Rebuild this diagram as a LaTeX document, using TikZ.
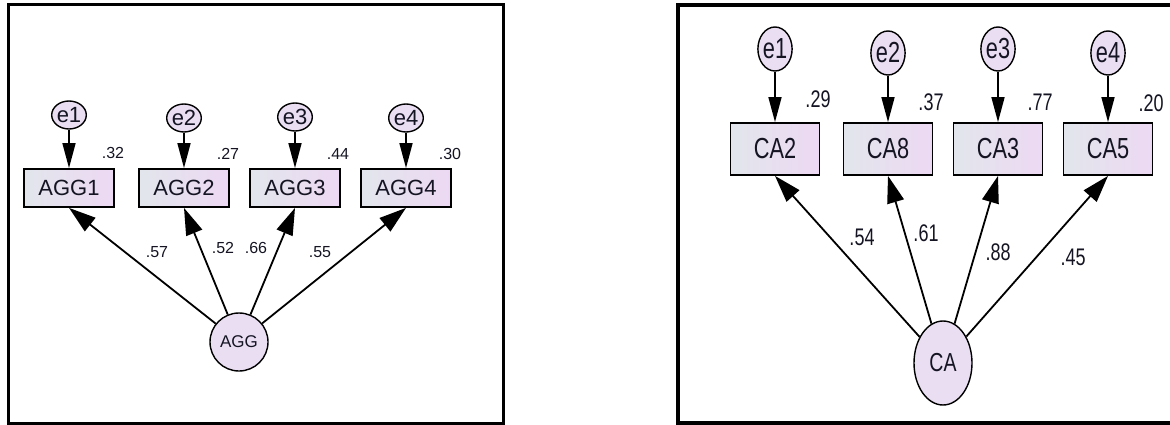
\documentclass[tikz,border=0pt]{standalone}
\usepackage{fontspec}
\setmainfont{Liberation Sans}
\newfontfamily\narrowfont[FakeStretch=0.75]{Liberation Sans}
\usetikzlibrary{arrows.meta,shapes.geometric}
\definecolor{boxleft}{RGB}{226,230,236}
\definecolor{boxright}{RGB}{237,216,243}
\definecolor{varfill}{RGB}{234,222,243}
\definecolor{ink}{RGB}{20,20,35}

\begin{document}
\begin{tikzpicture}[x=1pt,y=-1pt,
	obs/.style={draw, line width=1.8pt, left color=boxleft, right color=boxright, inner sep=0pt, text=ink},
	err/.style={draw, ellipse, line width=1.4pt, fill=varfill, inner sep=0pt, text=ink},
	errarrow/.style={line width=1.6pt, -{Triangle[length=25pt,width=13pt]}},
	load/.style={line width=1.8pt, -{Triangle[length=27pt,width=17pt]}},
	val/.style={inner sep=0pt, text=ink}]

	\useasboundingbox (0,0) rectangle (1170,425);

	%frames of both models (the right one runs off the page)
	\draw[line width=3pt] (8,5) rectangle (503,423);
	\draw[line width=3.5pt] (1170,5) -- (678,5) -- (678,423) -- (1170,423);

	%model AGG (left)
	\begin{scope}[font=\fontsize{22}{24}\selectfont]
	\node[err, minimum width=28pt, minimum height=28pt] (ae1) at (69,115) {e1};
	\node[err, minimum width=28pt, minimum height=28pt] (ae2) at (184,118) {e2};
	\node[err, minimum width=28pt, minimum height=28pt] (ae3) at (295,117) {e3};
	\node[err, minimum width=28pt, minimum height=28pt] (ae4) at (406,118) {e4};

	\node[obs, minimum width=90pt, minimum height=38pt] (agg1) at (69,188) {AGG1};
	\node[obs, minimum width=90pt, minimum height=38pt] (agg2) at (184,188) {AGG2};
	\node[obs, minimum width=90pt, minimum height=38pt] (agg3) at (295,188) {AGG3};
	\node[obs, minimum width=90pt, minimum height=38pt] (agg4) at (406,188) {AGG4};
	\end{scope}

	\node[err, minimum size=58pt, font=\fontsize{17}{19}\selectfont] (agg) at (239,342) {AGG};

	\draw[errarrow] (ae1) -- (agg1);
	\draw[errarrow] (ae2) -- (agg2);
	\draw[errarrow] (ae3) -- (agg3);
	\draw[errarrow] (ae4) -- (agg4);

	\draw[load] (agg) -- (agg1.south);
	\draw[load] (agg) -- (agg2.south);
	\draw[load] (agg) -- (agg3.south);
	\draw[load] (agg) -- (agg4.south);

	\begin{scope}[font=\fontsize{16}{18}\selectfont]
	\node[val] (ar1) at (113,153) {.32};
	\node[val] (ar2) at (228,154) {.27};
	\node[val] (ar3) at (338,154) {.44};
	\node[val] (ar4) at (450,154) {.30};

	\node[val] (al1) at (157,252) {.57};
	\node[val] (al2) at (223,248) {.52};
	\node[val] (al3) at (256,248) {.66};
	\node[val] (al4) at (320,252) {.55};
	\end{scope}

	%model CA (right), narrow lettering
	\begin{scope}[font=\narrowfont\fontsize{29}{31}\selectfont]
	\node[err, minimum width=28pt, minimum height=44pt] (ce1) at (775,49) {e1};
	\node[err, minimum width=28pt, minimum height=44pt] (ce2) at (888,53) {e2};
	\node[err, minimum width=28pt, minimum height=44pt] (ce3) at (998,49) {e3};
	\node[err, minimum width=28pt, minimum height=44pt] (ce4) at (1108,53) {e4};

	\node[obs, minimum width=89pt, minimum height=52pt] (ca2) at (775,149) {CA2};
	\node[obs, minimum width=89pt, minimum height=52pt] (ca8) at (888,149) {CA8};
	\node[obs, minimum width=89pt, minimum height=52pt] (ca3) at (998,149) {CA3};
	\node[obs, minimum width=89pt, minimum height=52pt] (ca5) at (1108,149) {CA5};
	\end{scope}

	\node[err, minimum width=58pt, minimum height=84pt, font=\narrowfont\fontsize{26}{28}\selectfont] (ca) at (943,363) {CA};

	\draw[errarrow] (ce1) -- (ca2);
	\draw[errarrow] (ce2) -- (ca8);
	\draw[errarrow] (ce3) -- (ca3);
	\draw[errarrow] (ce4) -- (ca5);

	\draw[load] (ca) -- (ca2.south);
	\draw[load] (ca) -- (ca8.south);
	\draw[load] (ca) -- (ca3.south);
	\draw[load] (ca) -- (ca5.south);

	\begin{scope}[font=\narrowfont\fontsize{24}{26}\selectfont]
	\node[val] (cr1) at (818,99) {.29};
	\node[val] (cr2) at (931,102) {.37};
	\node[val] (cr3) at (1040,102) {.77};
	\node[val] (cr4) at (1151,103) {.20};

	\node[val] (cl1) at (862,237) {.54};
	\node[val] (cl2) at (926,233) {.61};
	\node[val] (cl3) at (998,252) {.88};
	\node[val] (cl4) at (1073,257) {.45};
	\end{scope}
\end{tikzpicture}
\end{document}
